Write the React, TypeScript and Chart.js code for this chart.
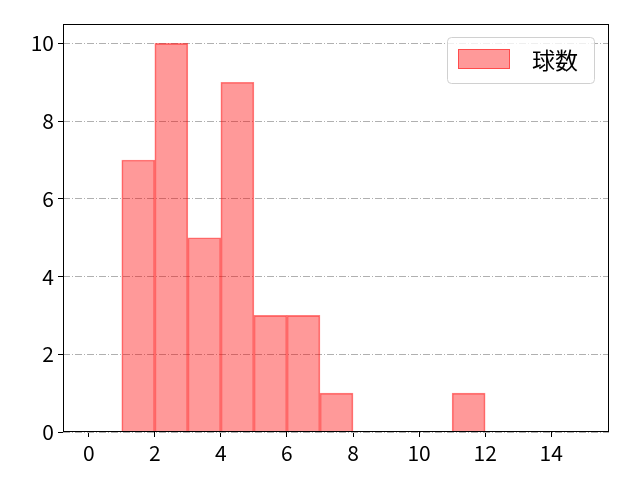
import { useEffect, useRef } from "react"
import { Chart, registerables } from "chart.js"

Chart.register(...registerables)

// histogram bins (left edges, width 1) and counts
const binStarts = [1, 2, 3, 4, 5, 6, 7, 11]
const counts = [7, 10, 5, 9, 3, 3, 1, 1]
const seriesLabel = "球数"
const xTicks = [0, 2, 4, 6, 8, 10, 12, 14]
const yTicks = [0, 2, 4, 6, 8, 10]

const FONT = "'Noto Sans CJK JP', 'DejaVu Sans', sans-serif"
const FILL = "rgba(255, 0, 0, 0.4)"
const EDGE = "rgba(255, 0, 0, 0.5)"

// frame around plot area + legend box inside top right
const framePlugin = {
  id: "frameAndLegend",
  afterDraw(chart: Chart) {
    const { ctx, chartArea } = chart
    const { left, top, right, bottom } = chartArea
    ctx.save()
    ctx.strokeStyle = "#000"
    ctx.lineWidth = 1
    ctx.strokeRect(left + 0.5, top + 0.5, right - left - 1, bottom - top - 1)

    // legend
    const bx = 447, by = 37, bw = 147, bh = 46, r = 4
    ctx.fillStyle = "rgba(255,255,255,0.8)"
    ctx.strokeStyle = "#d0d0d0"
    ctx.beginPath()
    ctx.roundRect(bx + 0.5, by + 0.5, bw, bh, r)
    ctx.fill()
    ctx.stroke()

    ctx.fillStyle = FILL
    ctx.strokeStyle = EDGE
    ctx.fillRect(458, 49, 52, 20)
    ctx.strokeRect(458.5, 49.5, 51, 19)

    ctx.fillStyle = "#000"
    ctx.font = `23px ${FONT}`
    ctx.textBaseline = "middle"
    ctx.fillText(seriesLabel, 532, 60)
    ctx.restore()
  },
}

export default function App() {
  const chartRef = useRef<HTMLCanvasElement>(null)
  const chartInstance = useRef<Chart | null>(null)

  useEffect(() => {
    document.body.style.margin = "0"
    if (!chartRef.current) return
    if (chartInstance.current) chartInstance.current.destroy()
    const ctx = chartRef.current.getContext("2d")
    if (!ctx) return

    const data = binStarts.map((s, i) => ({ x: s + 0.5, y: counts[i] }))

    chartInstance.current = new Chart(ctx, {
      type: "bar",
      data: {
        datasets: [
          {
            label: seriesLabel,
            data,
            backgroundColor: FILL,
            borderColor: EDGE,
            borderWidth: 1,
            barPercentage: 1,
            categoryPercentage: 1,
            grouped: false,
          },
        ],
      },
      options: {
        animation: false,
        responsive: false,
        maintainAspectRatio: false,
        layout: { padding: { left: 0, top: 24, right: 31, bottom: 0 } },
        plugins: {
          legend: { display: false },
          tooltip: { enabled: false },
        },
        scales: {
          x: {
            type: "linear",
            offset: false,
            min: -0.78,
            max: 15.75,
            afterBuildTicks: (scale: any) => {
              scale.ticks = xTicks.map((v) => ({ value: v }))
            },
            afterFit: (scale: any) => {
              scale.height = 48
            },
            ticks: {
              color: "#000",
              font: { family: FONT, size: 21 },
              padding: 3,
            },
            grid: {
              display: true,
              offset: false,
              drawOnChartArea: false,
              drawTicks: true,
              tickLength: 5,
              tickColor: "#000",
            },
            border: { display: false },
          },
          y: {
            min: 0,
            max: 10.5,
            afterBuildTicks: (scale: any) => {
              scale.ticks = yTicks.map((v) => ({ value: v }))
            },
            afterFit: (scale: any) => {
              scale.width = 63
            },
            ticks: {
              color: "#000",
              font: { family: FONT, size: 21 },
              padding: 4,
            },
            grid: {
              display: true,
              drawOnChartArea: true,
              color: "#b0b0b0",
              lineWidth: 1,
              drawTicks: true,
              tickLength: 5,
              tickColor: "#000",
            },
            border: { display: false, dash: [7, 2, 1, 2] },
          },
        },
      },
      plugins: [framePlugin],
    } as any)

    return () => {
      if (chartInstance.current) {
        chartInstance.current.destroy()
        chartInstance.current = null
      }
    }
  }, [])

  return (
    <div style={{ width: 640, height: 480, background: "#fff" }}>
      <canvas ref={chartRef} width={640} height={480} style={{ width: 640, height: 480 }} />
    </div>
  )
}
